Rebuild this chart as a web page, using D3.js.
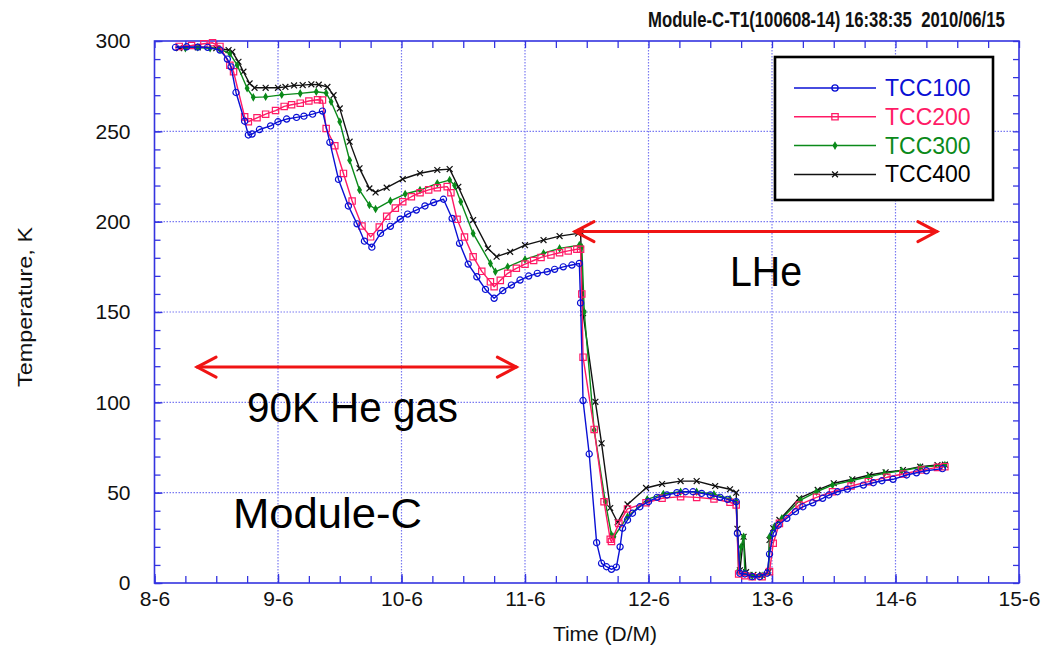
<!DOCTYPE html>
<html>
<head>
<meta charset="utf-8">
<script src="https://cdn.jsdelivr.net/npm/d3@7"></script>
<style>
  html, body { margin: 0; padding: 0; background: #fff; }
  svg { display: block; }
  text { font-family: "Liberation Sans", Arial, sans-serif; }
</style>
</head>
<body>
<svg id="chart" width="1044" height="649"></svg>
<script>
// Cool-down record of Module-C, temperatures in K against time (day of June).
const seriesNames = ["TCC100", "TCC200", "TCC300", "TCC400"];
const seriesColors = ["#0a10d4", "#ff1a66", "#0b8a1a", "#111111"];
const xTickDays = [8, 9, 10, 11, 12, 13, 14, 15];
const xTickLabels = ["8-6", "9-6", "10-6", "11-6", "12-6", "13-6", "14-6", "15-6"];
const yTicks = [0, 50, 100, 150, 200, 250, 300];

const tcc100 = [
  [8.17,296.5],[8.26,296.8],[8.35,296.6],[8.43,296.5],[8.53,295.0],[8.59,290.0],[8.62,285.7],[8.66,271.5],
  [8.73,255.6],[8.76,248.0],[8.79,248.5],[8.85,251.0],[8.94,253.0],[9.00,255.3],[9.07,256.8],[9.15,257.7],
  [9.21,258.4],[9.28,259.5],[9.36,261.2],[9.42,243.9],[9.49,223.4],[9.57,208.7],[9.64,198.8],[9.70,189.2],
  [9.76,185.9],[9.83,193.5],[9.91,197.4],[9.99,201.4],[10.05,204.2],[10.12,206.4],[10.19,208.7],[10.26,210.6],
  [10.34,212.4],[10.41,201.8],[10.47,188.0],[10.54,176.5],[10.61,169.5],[10.68,162.5],[10.75,157.6],[10.82,161.8],
  [10.89,164.9],[10.96,167.7],[11.03,169.9],[11.10,171.4],[11.18,172.3],[11.24,173.6],[11.31,175.0],[11.38,176.0],
  [11.44,176.9],[11.45,155.0],[11.47,101.0],[11.52,71.4],[11.58,22.3],[11.62,10.9],[11.66,9.0],[11.70,7.6],
  [11.74,8.8],[11.77,20.0],[11.79,30.3],[11.83,34.9],[11.87,38.6],[11.93,42.2],[12.00,45.0],[12.07,47.4],
  [12.15,48.7],[12.23,50.0],[12.30,50.5],[12.36,50.5],[12.43,49.6],[12.50,48.7],[12.58,47.4],[12.64,46.3],
  [12.71,45.0],[12.72,27.5],[12.74,5.4],[12.78,5.0],[12.84,3.5],[12.90,3.5],[12.96,5.4],[12.98,16.0],
  [13.01,27.5],[13.05,32.0],[13.12,35.8],[13.19,39.5],[13.25,42.2],[13.33,44.4],[13.41,46.9],[13.46,48.7],
  [13.53,50.5],[13.61,51.9],[13.74,54.2],[13.82,55.5],[13.89,56.6],[13.98,57.4],[14.09,59.8],[14.17,61.0],
  [14.25,62.1],[14.38,63.3]
];
const tcc200 = [
  [8.20,297.0],[8.30,297.5],[8.40,298.5],[8.47,299.0],[8.53,297.0],[8.61,286.6],[8.64,283.0],[8.73,258.0],
  [8.76,255.3],[8.83,257.5],[8.90,259.5],[8.98,261.5],[9.05,263.8],[9.11,264.7],[9.18,265.6],[9.25,266.8],
  [9.32,267.5],[9.36,267.3],[9.39,251.6],[9.46,242.0],[9.53,226.7],[9.60,211.4],[9.68,197.6],[9.75,191.6],
  [9.82,197.0],[9.88,203.0],[9.95,207.5],[10.01,211.0],[10.08,213.8],[10.15,216.0],[10.22,217.6],[10.29,218.8],
  [10.37,219.4],[10.40,216.0],[10.45,201.3],[10.51,191.5],[10.58,180.6],[10.65,172.5],[10.72,166.7],[10.75,164.0],
  [10.80,167.5],[10.86,171.4],[10.93,174.2],[11.00,176.5],[11.07,178.5],[11.13,180.2],[11.21,181.6],[11.28,182.8],
  [11.35,183.8],[11.42,184.7],[11.45,184.7],[11.46,160.0],[11.47,125.0],[11.56,85.0],[11.64,45.0],[11.69,24.2],
  [11.70,23.0],[11.76,33.0],[11.83,41.0],[11.98,44.4],[12.11,46.9],[12.26,47.8],[12.39,47.4],[12.53,46.5],
  [12.66,44.7],[12.71,43.2],[12.73,5.0],[12.78,4.0],[12.84,3.5],[12.92,3.5],[12.98,6.3],[13.01,22.0],
  [13.06,33.0],[13.22,43.2],[13.36,47.4],[13.49,50.5],[13.64,53.7],[13.78,56.1],[13.93,58.5],[14.06,60.3],
  [14.21,62.5],[14.34,64.0],[14.40,64.4]
];
const tcc300 = [
  [8.25,296.0],[8.35,296.5],[8.45,296.0],[8.53,295.5],[8.61,293.0],[8.67,286.6],[8.75,273.8],[8.80,268.8],
  [8.90,269.1],[9.03,270.2],[9.18,271.0],[9.31,271.9],[9.39,271.2],[9.43,266.4],[9.50,255.3],[9.58,234.0],
  [9.66,217.5],[9.74,209.2],[9.79,207.0],[9.91,211.5],[10.03,215.3],[10.15,217.5],[10.29,221.2],[10.39,223.0],
  [10.43,220.0],[10.48,211.0],[10.58,193.5],[10.72,176.9],[10.76,172.3],[10.86,175.0],[11.00,179.1],[11.15,182.5],
  [11.28,185.2],[11.44,187.0],[11.46,186.0],[11.48,150.0],[11.56,84.7],[11.65,45.0],[11.70,26.6],[11.72,25.6],
  [11.83,36.7],[11.99,46.3],[12.12,49.3],[12.26,50.5],[12.39,50.5],[12.53,49.1],[12.66,46.5],[12.71,45.0],
  [12.73,7.0],[12.75,20.0],[12.77,25.6],[12.78,6.0],[12.84,4.0],[12.92,4.0],[12.97,6.0],[12.98,25.6],
  [13.02,31.2],[13.08,35.8],[13.23,45.9],[13.36,50.5],[13.49,54.2],[13.64,56.6],[13.78,58.8],[13.91,60.7],
  [14.05,62.1],[14.20,64.0],[14.40,65.3]
];
const tcc400 = [
  [8.20,296.0],[8.35,296.5],[8.50,296.0],[8.60,295.0],[8.63,294.0],[8.68,288.5],[8.72,283.0],[8.77,276.5],
  [8.81,274.1],[8.90,274.1],[9.00,274.1],[9.06,274.6],[9.13,275.4],[9.20,275.6],[9.27,276.0],[9.33,275.8],
  [9.40,274.6],[9.45,270.0],[9.50,262.7],[9.58,244.3],[9.66,229.5],[9.74,218.4],[9.79,216.2],[9.88,218.8],
  [10.01,223.6],[10.15,226.8],[10.29,228.6],[10.39,229.1],[10.46,219.3],[10.58,200.9],[10.70,185.2],[10.77,180.6],
  [10.88,183.3],[11.00,187.0],[11.15,189.8],[11.28,192.0],[11.43,193.5],[11.45,194.4],[11.47,149.3],[11.57,100.3],
  [11.62,77.3],[11.69,41.5],[11.75,33.6],[11.83,43.5],[11.98,52.6],[12.11,54.8],[12.26,56.4],[12.39,56.4],
  [12.54,53.7],[12.66,51.9],[12.71,50.0],[12.72,30.0],[12.74,7.0],[12.77,25.6],[12.79,6.0],[12.85,4.5],
  [12.92,4.5],[12.97,6.0],[12.98,23.8],[13.01,30.3],[13.06,34.9],[13.22,46.9],[13.37,51.5],[13.50,55.2],
  [13.65,57.4],[13.79,59.8],[13.92,61.3],[14.06,62.5],[14.20,64.4],[14.34,65.3],[14.40,65.5]
];

const titleText = "Module-C-T1(100608-14) 16:38:35  2010/06/15";

const svg = d3.select("#chart");
const frameColor = "#3434e0";
const gridColor = "#7a7af2";

const x = d3.scaleLinear().domain([8, 15]).range([154.5, 1019]);
const y = d3.scaleLinear().domain([0, 300]).range([583, 41]);
const [x0, x1] = x.range();
const [y0, y1] = y.range();

// dotted grid
const grid = svg.append("g");
grid.selectAll("line.v").data(xTickDays.slice(1, -1)).join("line")
  .attr("x1", d => x(d)).attr("x2", d => x(d)).attr("y1", y1).attr("y2", y0)
  .attr("stroke", gridColor).attr("stroke-width", 1.2).attr("stroke-dasharray", "1.5,1.5");
grid.selectAll("line.h").data(yTicks.slice(1, -1)).join("line")
  .attr("x1", x0).attr("x2", x1).attr("y1", d => y(d)).attr("y2", d => y(d))
  .attr("stroke", gridColor).attr("stroke-width", 1.2).attr("stroke-dasharray", "1.5,1.5");

// axes with inward ticks
const minorX = d3.range(8, 15.001, 0.25);
const minorY = d3.range(0, 300.001, 10);
function styleAxis(g) {
  g.select(".domain").remove();
  g.selectAll(".tick line").attr("stroke", frameColor).attr("stroke-width", 1.3);
}
svg.append("g").attr("transform", `translate(0,${y0})`)
  .call(d3.axisBottom(x).tickValues(minorX).tickSize(-7).tickFormat(""))
  .call(styleAxis);
svg.append("g").attr("transform", `translate(0,${y1})`)
  .call(d3.axisTop(x).tickValues(minorX).tickSize(-7).tickFormat(""))
  .call(styleAxis);
svg.append("g").attr("transform", `translate(${x0},0)`)
  .call(d3.axisLeft(y).tickValues(minorY).tickSize(-6).tickFormat(""))
  .call(styleAxis);
svg.append("g").attr("transform", `translate(${x1},0)`)
  .call(d3.axisRight(y).tickValues(minorY).tickSize(-6).tickFormat(""))
  .call(styleAxis);

// labelled axes
const xAxis = svg.append("g").attr("transform", `translate(0,${y0})`)
  .call(d3.axisBottom(x).tickValues(xTickDays).tickSize(-9).tickPadding(8)
    .tickFormat((d, i) => xTickLabels[i]))
  .call(styleAxis);
xAxis.selectAll("text").attr("font-size", 21).attr("fill", "#111")
  .attr("font-family", "'Liberation Sans', Arial, sans-serif");
const yAxis = svg.append("g").attr("transform", `translate(${x0},0)`)
  .call(d3.axisLeft(y).tickValues(yTicks).tickSize(-8).tickPadding(24))
  .call(styleAxis);
yAxis.selectAll("text").attr("font-size", 21).attr("fill", "#111")
  .attr("font-family", "'Liberation Sans', Arial, sans-serif");

// frame
svg.append("rect").attr("x", x0).attr("y", y1).attr("width", x1 - x0).attr("height", y0 - y1)
  .attr("fill", "none").attr("stroke", frameColor).attr("stroke-width", 1.6);

// series
const markerShapes = [
  d3.symbol().type(d3.symbolCircle).size(30),
  d3.symbol().type(d3.symbolSquare).size(40),
  d3.symbol().type(d3.symbolDiamond).size(11),
  d3.symbol().type(d3.symbolTimes || d3.symbolCross).size(24)
];
const allSeries = [tcc100, tcc200, tcc300, tcc400];
const line = d3.line().x(d => x(d[0])).y(d => y(d[1]));
const plot = svg.append("g");
// black first, blue last so the coldest sensor sits on top
[3, 2, 1, 0].forEach(i => {
  const g = plot.append("g");
  g.append("path").datum(allSeries[i]).attr("d", line)
    .attr("fill", "none").attr("stroke", seriesColors[i]).attr("stroke-width", 1.4)
    .attr("stroke-linejoin", "round");
  g.selectAll("path.m").data(allSeries[i]).join("path").attr("class", "m")
    .attr("transform", d => `translate(${x(d[0])},${y(d[1])})`)
    .attr("d", markerShapes[i])
    .attr("fill", i === 2 ? seriesColors[i] : "none")
    .attr("stroke", seriesColors[i]).attr("stroke-width", 1.2);
});

// legend
const legend = svg.append("g");
legend.append("rect").attr("x", 775).attr("y", 57).attr("width", 218).attr("height", 143)
  .attr("fill", "#fff").attr("stroke", "#000").attr("stroke-width", 2.6);
seriesNames.forEach((name, i) => {
  const ry = 88 + i * 28.8;
  legend.append("line").attr("x1", 794).attr("x2", 876).attr("y1", ry).attr("y2", ry)
    .attr("stroke", seriesColors[i]).attr("stroke-width", 1.5);
  legend.append("path").attr("transform", `translate(835,${ry})`).attr("d", markerShapes[i])
    .attr("fill", i === 2 ? seriesColors[i] : "none")
    .attr("stroke", seriesColors[i]).attr("stroke-width", 1.3);
  legend.append("text").attr("x", 885).attr("y", ry + 8).attr("font-size", 23)
    .attr("fill", i === 3 ? "#000" : seriesColors[i]).text(name);
});

// title: condensed bold, squeezed horizontally to its measured width
const title = svg.append("text").attr("x", 0).attr("y", 0)
  .attr("xml:space", "preserve").style("white-space", "pre")
  .attr("font-family", "'Liberation Sans', Arial, sans-serif")
  .attr("font-weight", "bold").attr("font-size", 22).attr("fill", "#111")
  .text(titleText);
const titleWidth = title.node().getComputedTextLength();
title.attr("transform", `translate(648,27) scale(${357 / titleWidth},1)`);

svg.append("text").attr("x", 605).attr("y", 641).attr("text-anchor", "middle")
  .attr("font-size", 21).attr("fill", "#111").text("Time (D/M)");
svg.append("text").attr("transform", "translate(32,387) rotate(-90)")
  .attr("font-size", 21).attr("fill", "#111")
  .attr("textLength", 160).attr("lengthAdjust", "spacingAndGlyphs")
  .text("Temperature, K");

// annotations
const red = "#f01414";
function doubleArrow(xa, xb, yy) {
  const g = svg.append("g").attr("stroke", red).attr("stroke-width", 3).attr("fill", "none")
    .attr("stroke-linecap", "round");
  g.append("line").attr("x1", xa).attr("x2", xb).attr("y1", yy).attr("y2", yy);
  g.append("path").attr("d", `M${xa + 19},${yy - 10}L${xa},${yy}L${xa + 19},${yy + 10}`);
  g.append("path").attr("d", `M${xb - 19},${yy - 10}L${xb},${yy}L${xb - 19},${yy + 10}`);
}
doubleArrow(x(8.345), x(10.93), y(119.5));
doubleArrow(x(11.405), x(14.335), y(194.5));

function note(txt, xl, base, w) {
  svg.append("text").attr("x", xl).attr("y", base)
    .attr("font-family", "Carlito, 'Open Sans', sans-serif").attr("font-size", 42).attr("fill", "#000")
    .attr("textLength", w).attr("lengthAdjust", "spacingAndGlyphs").text(txt);
}
note("90K He gas", 247, 422, 211);
note("Module-C", 233, 528, 189);
note("LHe", 730, 286, 72);
</script>
</body>
</html>
